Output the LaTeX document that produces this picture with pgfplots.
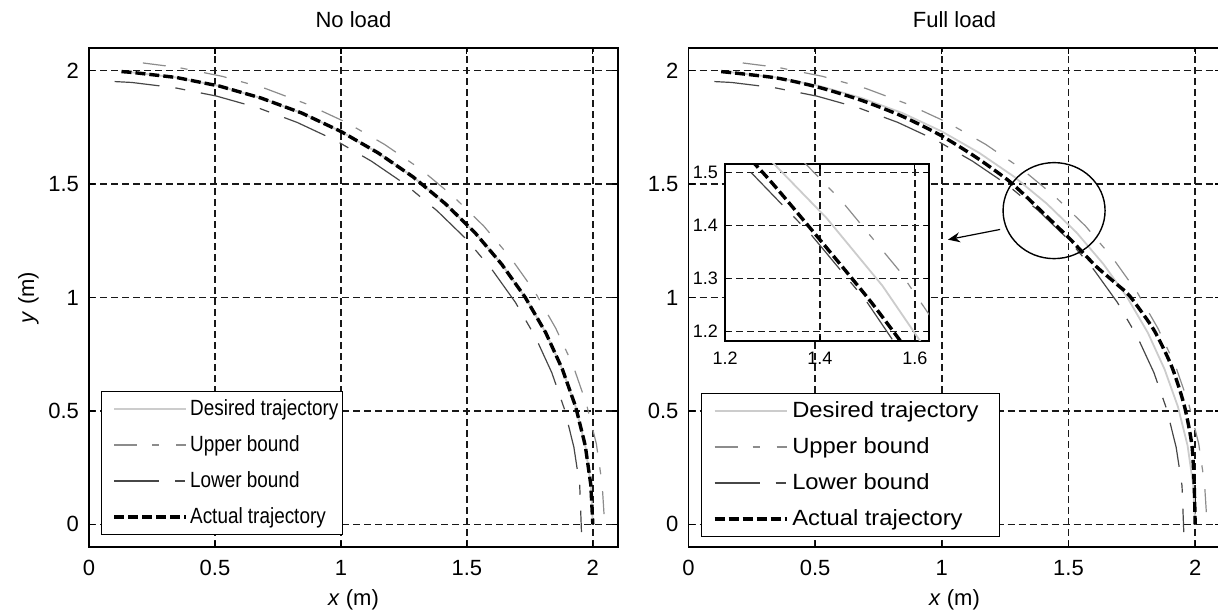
\documentclass[border=0pt]{standalone}
\usepackage{fontspec}
\setmainfont{Liberation Sans}
\usepackage{graphicx}
\usepackage{pgfplots}
\pgfplotsset{compat=1.18}
\usepackage{pgfplotstable}
\usetikzlibrary{arrows.meta,calc}

\definecolor{desc}{gray}{0.80}
\definecolor{uppc}{gray}{0.55}
\definecolor{lowc}{gray}{0.28}

% desired trajectory, r = 2
\pgfplotstableread{
x y
0.129 1.996
0.174 1.992
0.347 1.970
0.518 1.932
0.684 1.879
0.845 1.813
1.000 1.732
1.147 1.638
1.286 1.532
1.414 1.414
1.532 1.286
1.638 1.147
1.732 1.000
1.813 0.845
1.879 0.684
1.932 0.518
1.970 0.347
1.992 0.174
2.000 0.000
}\des

% upper bound
\pgfplotstableread{
x y
0.214 2.034
0.355 2.014
0.529 1.975
0.699 1.922
0.864 1.853
1.023 1.771
1.173 1.675
1.315 1.567
1.446 1.446
1.567 1.315
1.675 1.173
1.771 1.023
1.853 0.864
1.922 0.699
1.975 0.529
2.014 0.355
2.037 0.178
2.045 0.036
}\upp

% lower bound
\pgfplotstableread{
x y
0.102 1.952
0.170 1.948
0.339 1.925
0.506 1.888
0.669 1.837
0.826 1.772
0.978 1.693
1.121 1.601
1.257 1.498
1.382 1.382
1.498 1.257
1.601 1.121
1.693 0.978
1.772 0.826
1.837 0.669
1.888 0.506
1.925 0.339
1.948 0.170
1.955 -0.034
}\low

% actual trajectory, full load
\pgfplotstableread{
x y
0.129 1.996
0.347 1.968
0.516 1.926
0.681 1.870
0.840 1.801
0.992 1.717
1.134 1.619
1.268 1.511
1.387 1.387
1.503 1.261
1.569 1.183
1.615 1.131
1.692 1.057
1.742 1.006
1.837 0.857
1.908 0.694
1.957 0.524
1.987 0.350
1.996 0.175
2.000 0.000
}\actfull

\pgfplotsset{
  desired/.style={desc, line width=0.9pt},
  upper/.style={uppc, line width=0.6pt, dash pattern=on 11.5pt off 7.5pt on 3.5pt off 8.5pt},
  lower/.style={lowc, line width=0.6pt, dash pattern=on 22.5pt off 8pt on 5pt off 8pt},
  actual/.style={black, line width=1.7pt, dash pattern=on 5pt off 2pt},
  common/.style={
    scale only axis,
    grid=major,
    major grid style={black!90, line width=0.75pt, dash pattern=on 3.5pt off 2pt},
    tick align=inside, major tick length=3pt,
    axis line style={line width=0.7pt},
    every tick/.style={black, line width=0.6pt},
    /pgf/number format/assume math mode=true,
  },
  panel/.style={
    common,
    width=264.5pt, height=249.5pt,
    xmin=0, xmax=2.1, ymin=-0.1, ymax=2.1,
    xtick={0,0.5,1,1.5,2}, ytick={0,0.5,1,1.5,2},
    tick label style={font=\fontsize{11}{13}\selectfont},
    xticklabel style={yshift=-3pt},
    yticklabel style={xshift=-1.5pt},
    label style={font=\fontsize{11}{13}\selectfont},
    ylabel style={yshift=-2pt},
    title style={font=\fontsize{11}{13}\selectfont, yshift=0.5pt},
    xlabel={\textit{x} (m)},
    legend cell align=left,
    legend style={anchor=south west, draw=black, line width=0.6pt, fill=white,
      font=\fontsize{11}{13}\selectfont, row sep=4.5pt,
      inner xsep=5.5pt, inner ysep=2pt, nodes={inner xsep=2pt}},
    legend image code/.code={\draw[#1] (0pt,0pt) -- (36pt,0pt);},
  },
}

\begin{document}
\begin{tikzpicture}

\begin{axis}[panel, at={(0,0)}, title={No load}, ylabel={\textit{y} (m)},
  legend style={at={(0.023,0.024)}, nodes={inner xsep=1pt}}]
\addplot[desired] table {\des};
\addplot[upper] table {\upp};
\addplot[lower] table {\low};
\addplot[actual] table {\des};
\legend{\scalebox{0.86}[1]{Desired trajectory}\hspace*{-4.5pt},\scalebox{0.86}[1]{Upper bound},
  \scalebox{0.86}[1]{Lower bound},\scalebox{0.86}[1]{Actual trajectory}}
\coordinate (Lsw) at (rel axis cs:0,0);
\end{axis}

\begin{axis}[panel, at={(299.75pt,0)}, width=266pt, title={Full load},
  legend style={at={(0.024,0.02)}}]
\addplot[desired] table {\des};
\addplot[upper] table {\upp};
\addplot[lower] table {\low};
\addplot[actual, smooth, tension=0.4] table {\actfull};
\legend{\scalebox{1.08}[1]{Desired trajectory}\hspace*{3pt},\scalebox{1.08}[1]{Upper bound},
  \scalebox{1.08}[1]{Lower bound},\scalebox{1.08}[1]{Actual trajectory}}
\draw[line width=0.7pt] (axis cs:1.443,1.383) ellipse[x radius=25.5pt, y radius=24pt];
\draw[line width=0.6pt, -{Stealth[length=6pt, width=5pt]}] (axis cs:1.23,1.30) -- (axis cs:1.024,1.255);
\end{axis}

% inset
\begin{axis}[common, at={(318pt,191.5pt)}, anchor=north west,
  width=102pt, height=88.5pt,
  xmin=1.2, xmax=1.63, ymin=1.182, ymax=1.516,
  xtick={1.2,1.4,1.6}, ytick={1.2,1.3,1.4,1.5},
  major tick length=2.5pt,
  tick label style={font=\fontsize{9}{11}\selectfont},
  xticklabel style={yshift=-2pt},
  axis background/.style={fill=white}]
\addplot[desired] table {\des};
\addplot[upper] table {\upp};
\addplot[lower] table {\low};
\addplot[actual, smooth, tension=0.4] table {\actfull};
\end{axis}

\pgfresetboundingbox
\path ($(Lsw)+(-44.5pt,-33pt)$) rectangle ($(Lsw)+(564.5pt,273.5pt)$);
\end{tikzpicture}
\end{document}
